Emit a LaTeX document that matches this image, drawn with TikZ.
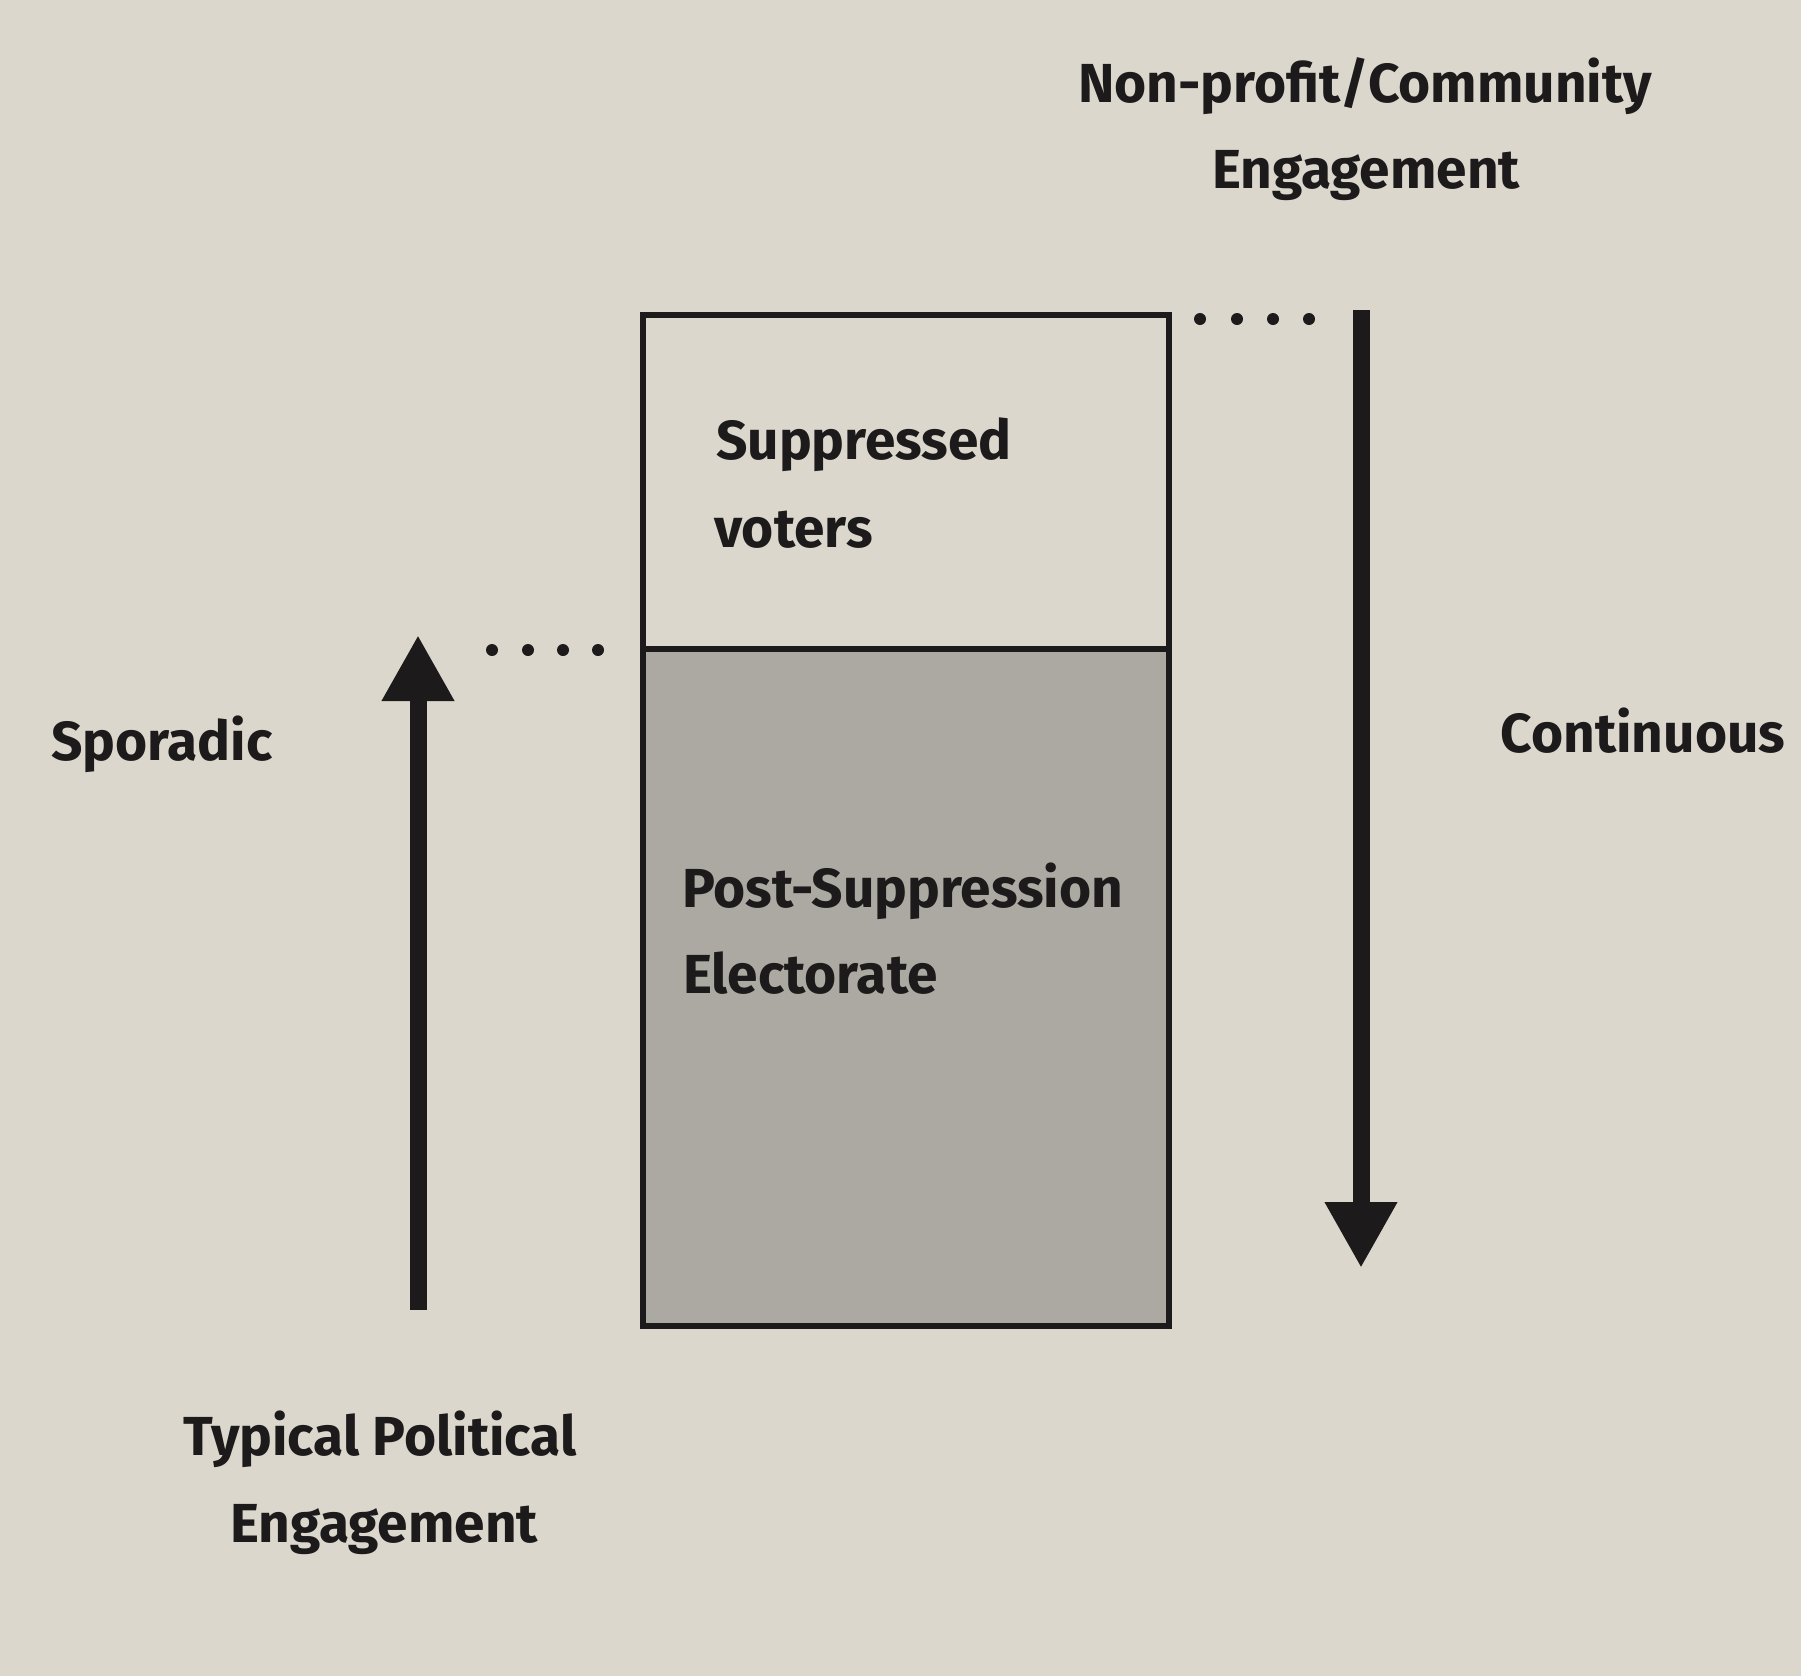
\documentclass[tikz,border=0pt]{standalone}
\usepackage{fontspec}
\setmainfont{Fira Sans}
\usetikzlibrary{arrows.meta}
\definecolor{paper}{RGB}{219,215,204}
\definecolor{shade}{RGB}{172,169,162}
\definecolor{ink}{RGB}{28,26,26}
\begin{document}
\begin{tikzpicture}[x=1pt,y=-1pt,
  lbl/.style={inner sep=0pt,text=ink,font=\fontsize{55}{62}\selectfont\bfseries},
  part/.style={draw=ink,line width=6pt,inner sep=0pt,minimum width=526pt,anchor=north west},
  bigarrow/.style={draw=ink,line width=17pt,-{Triangle[length=66pt,width=68pt]}},
  dotmark/.style={circle,fill=ink,inner sep=0pt,minimum size=12pt}]
\fill[paper] (0,0) rectangle (1801,1676);
\useasboundingbox (0,0) rectangle (1801,1676);
% box
\node[part,minimum height=334pt] (upper) at (640,312) {};
\node[part,minimum height=677pt,fill=shade] (lower) at (640,646) {};
% texts
\node[lbl,anchor=base west] (supp) at (716,459) {Suppressed};
\node[lbl,anchor=base west] (vot) at (714,547) {voters};
\node[lbl,anchor=base west] (post) at (682,907) {Post-Suppression};
\node[lbl,anchor=base west] (elec) at (683,993) {Electorate};
\node[lbl,anchor=base] (np) at (1365,102) {Non-profit/Community};
\node[lbl,anchor=base] (eng1) at (1366,188) {Engagement};
\node[lbl,anchor=base] (spor) at (162,760) {Sporadic};
\node[lbl,anchor=base] (cont) at (1643,752) {Continuous};
\node[lbl,anchor=base] (typ) at (380,1455) {Typical Political};
\node[lbl,anchor=base] (eng2) at (384,1542) {Engagement};
% arrows
\coordinate (upS) at (418,1310);
\coordinate (upE) at (418,635);
\coordinate (dnS) at (1361,310);
\coordinate (dnE) at (1361,1268);
\draw[bigarrow] (upS) -- (upE);
\draw[bigarrow] (dnS) -- (dnE);
% dots
\foreach \i/\x in {1/492,2/528,3/563,4/598}{\node[dotmark] (ld\i) at (\x,650) {};}
\foreach \i/\x in {1/1200,2/1237,3/1273,4/1309}{\node[dotmark] (rd\i) at (\x,319) {};}
\end{tikzpicture}
\end{document}
